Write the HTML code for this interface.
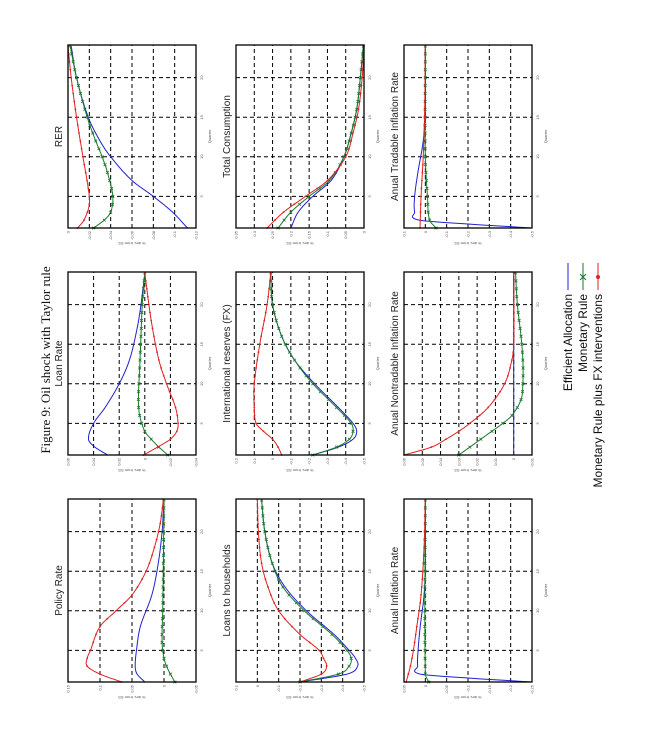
<!DOCTYPE html>
<html><head><meta charset="utf-8">
<style>html,body{margin:0;padding:0;background:#fff;}svg{display:block;}</style>
</head><body>
<svg id="s" width="665" height="735" xmlns="http://www.w3.org/2000/svg">
<g id="g" transform="translate(0,735) rotate(-90)"></g>
</svg>
<script>
const NS="http://www.w3.org/2000/svg";
const G=document.getElementById("g");
function el(t,a,txt){const e=document.createElementNS(NS,t);for(const k in a)e.setAttribute(k,a[k]);if(txt!==undefined)e.textContent=txt;G.appendChild(e);return e;}
const W=183,H=128;
const P=[
{t:"Policy Rate",u:53,v:68,ym:0.15,yn:-0.05,tk:[0.15,0.1,0.05,0,-0.05],
 b:[[1,0.03],[2,0.042],[3,0.045],[5,0.043],[8,0.037],[12,0.019],[16,0.009],[20,0.003],[24,0]],
 g:[[1,-0.017],[2,-0.01],[3,-0.004],[4,0],[6,0.003],[10,0.002],[16,0.001],[24,0]],
 r:[[1,0.066],[2,0.1],[3,0.12],[4,0.12],[5,0.115],[8,0.1],[10,0.075],[12,0.05],[15,0.028],[18,0.015],[21,0.006],[24,0.001]]},
{t:"Loan Rate",u:280,v:68,ym:0.06,yn:-0.04,tk:[0.06,0.04,0.02,0,-0.02,-0.04],
 b:[[1,0.029],[2,0.039],[3,0.044],[5,0.04],[7,0.031],[10,0.02],[13,0.012],[17,0.006],[20,0.003],[24,0]],
 g:[[1,-0.018],[2,-0.011],[3,-0.005],[4,0],[6,0.004],[8,0.005],[12,0.004],[16,0.003],[20,0.002],[24,0]],
 r:[[1,0.001],[2,-0.01],[3,-0.02],[4,-0.025],[5,-0.026],[7,-0.024],[10,-0.017],[13,-0.011],[18,-0.005],[24,0]]},
{t:"RER",u:507,v:68,ym:0,yn:-0.12,tk:[0,-0.02,-0.04,-0.06,-0.08,-0.1,-0.12],
 b:[[1,-0.112],[3,-0.098],[5,-0.08],[7,-0.06],[10,-0.04],[12,-0.03],[15,-0.019],[20,-0.008],[24,-0.003]],
 g:[[1,-0.024],[2,-0.034],[3,-0.04],[5,-0.042],[8,-0.037],[10,-0.032],[12,-0.026],[15,-0.018],[20,-0.008],[24,-0.002]],
 r:[[1,-0.009],[2,-0.015],[4,-0.02],[6,-0.019],[10,-0.014],[15,-0.008],[20,-0.003],[24,0]]},
{t:"Loans to households",u:53,v:236,ym:0.1,yn:-0.5,tk:[0.1,0,-0.1,-0.2,-0.3,-0.4,-0.5],
 b:[[1,-0.2],[2,-0.42],[3,-0.47],[4,-0.46],[5,-0.43],[7,-0.36],[10,-0.23],[13,-0.13],[16,-0.07],[20,-0.035],[24,-0.02]],
 g:[[1,-0.2],[2,-0.38],[3,-0.43],[4,-0.44],[5,-0.42],[7,-0.35],[10,-0.22],[13,-0.12],[16,-0.07],[20,-0.035],[24,-0.02]],
 r:[[1,-0.2],[2,-0.3],[3,-0.325],[4,-0.31],[5,-0.29],[7,-0.2],[10,-0.1],[13,-0.05],[16,-0.02],[20,-0.005],[24,0]]},
{t:"International reserves (FX)",u:280,v:236,ym:0.2,yn:-0.5,tk:[0.2,0.1,0,-0.1,-0.2,-0.3,-0.4,-0.5],
 b:[[1,-0.22],[2,-0.36],[3,-0.44],[4,-0.46],[5,-0.44],[7,-0.36],[10,-0.23],[13,-0.12],[16,-0.05],[20,0],[24,0.01]],
 g:[[1,-0.22],[2,-0.35],[3,-0.42],[4,-0.44],[5,-0.43],[7,-0.35],[10,-0.22],[13,-0.12],[16,-0.05],[20,0],[24,0.01]],
 r:[[1,-0.05],[2,-0.03],[3,0],[4,0.05],[5,0.09],[7,0.1],[10,0.1],[15,0.07],[20,0.03],[24,0.01]]},
{t:"Total Consumption",u:507,v:236,ym:0.35,yn:0,tk:[0.35,0.3,0.25,0.2,0.15,0.1,0.05,0],
 b:[[1,0.2],[3,0.18],[5,0.14],[7,0.09],[10,0.055],[13,0.035],[16,0.02],[20,0.01],[24,0.002]],
 g:[[1,0.235],[3,0.2],[5,0.15],[7,0.095],[10,0.055],[13,0.035],[16,0.02],[20,0.01],[24,0.002]],
 r:[[1,0.265],[3,0.22],[5,0.16],[7,0.1],[10,0.05],[13,0.03],[16,0.015],[20,0.005],[24,0]]},
{t:"Anual Inflation Rate",u:53,v:404,ym:0.05,yn:-0.25,tk:[0.05,0,-0.05,-0.1,-0.15,-0.2,-0.25],
 b:[[1,-0.25],[1.5,-0.1],[2,0.012],[3,0.018],[5,0.017],[8,0.012],[12,0.003],[16,0],[24,0]],
 g:[[1,-0.008],[2,0],[24,0]],
 r:[[1,0.045],[3,0.035],[5,0.028],[8,0.02],[12,0.01],[18,0.003],[24,0]]},
{t:"Anual Nontradable Inflation Rate",u:280,v:404,ym:0.06,yn:-0.01,tk:[0.06,0.05,0.04,0.03,0.02,0.01,0,-0.01],
 b:[[1,0],[24,0]],
 g:[[1,0.03],[3,0.018],[5,0.006],[6,0.001],[8,-0.004],[10,-0.005],[13,-0.005],[16,-0.004],[20,-0.002],[24,-0.001]],
 r:[[1,0.06],[2,0.045],[3,0.037],[4,0.03],[5,0.024],[7,0.014],[10,0.005],[13,0.001],[15,0],[24,0]]},
{t:"Anual Tradable Inflation Rate",u:507,v:404,ym:0.1,yn:-0.5,tk:[0.1,0,-0.1,-0.2,-0.3,-0.4,-0.5],
 b:[[1,-0.5],[1.5,-0.2],[2,0.03],[3,0.05],[5,0.05],[8,0.035],[12,0.01],[16,0],[24,0]],
 g:[[1,-0.05],[2,-0.02],[5,-0.01],[10,0],[24,0]],
 r:[[1,0.025],[5,0.02],[10,0.01],[16,0.003],[24,0]]}
];
function interp(pts,q){
  if(q<=pts[0][0])return pts[0][1];
  for(let i=0;i<pts.length-1;i++){
    const a=pts[i],b=pts[i+1];
    if(q<=b[0]){
      const p0=pts[i-1]||a,p3=pts[i+2]||b;
      const t=(q-a[0])/(b[0]-a[0]),h=b[0]-a[0];
      const m1=(b[1]-p0[1])/(b[0]-p0[0]||1)*h, m2=(p3[1]-a[1])/(p3[0]-a[0]||1)*h;
      const t2=t*t,t3=t2*t;
      return (2*t3-3*t2+1)*a[1]+(t3-2*t2+t)*m1+(-2*t3+3*t2)*b[1]+(t3-t2)*m2;
    }
  }
  return pts[pts.length-1][1];
}
for(const p of P){
  const X=q=>p.u+(q-1)*(182/23), Y=v=>p.v+(p.ym-v)/(p.ym-p.yn)*H;
  // grid
  for(const q of [5,10,15,20]) el("line",{x1:X(q),x2:X(q),y1:p.v,y2:p.v+H,stroke:"#000","stroke-width":1,"stroke-dasharray":"4,3"});
  for(let i=1;i<p.tk.length-1;i++){const y=p.v+i*H/(p.tk.length-1);el("line",{x1:p.u,x2:p.u+W,y1:y,y2:y,stroke:"#000","stroke-width":1,"stroke-dasharray":"4,3"});}
  // series
  const cols={b:"#2020d0",g:"#1a7a2a",r:"#e02020"};
  for(const k of ["b","g","r"]){
    let d="";
    for(let q=1;q<=24.001;q+=0.1){const y=Math.max(p.v,Math.min(p.v+H,Y(interp(p[k],q))));d+=(d?"L":"M")+X(q).toFixed(2)+","+y.toFixed(2);}
    el("path",{d:d,fill:"none",stroke:cols[k],"stroke-width":1});
    if(k!=="b"){
      for(let q=1;q<=24;q++){
        const x=X(q),y=Y(interp(p[k],q));
        if(k==="r")el("circle",{cx:x,cy:y,r:0.9,fill:cols.r});
        else el("path",{d:`M${x-1.4},${y-1.4}L${x+1.4},${y+1.4}M${x-1.4},${y+1.4}L${x+1.4},${y-1.4}`,stroke:cols.g,"stroke-width":0.8});
      }
    }
  }
  el("rect",{x:p.u,y:p.v,width:W,height:H,fill:"none",stroke:"#000","stroke-width":1.3});
  el("text",{x:p.u+W/2,y:p.v-6,"font-family":"Liberation Sans, sans-serif","font-size":10,"text-anchor":"middle",fill:"#222"},p.t);
  for(const q of [5,10,15,20]) el("text",{x:X(q),y:p.v+H+7,"font-family":"Liberation Sans, sans-serif","font-size":4,"text-anchor":"middle",fill:"#555"},String(q));
  el("text",{x:p.u+W/2,y:p.v+H+15,"font-family":"Liberation Sans, sans-serif","font-size":4,"text-anchor":"middle",fill:"#555"},"Quarter");
  for(let i=0;i<p.tk.length;i++){const y=p.v+i*H/(p.tk.length-1);el("text",{x:p.u-3,y:y+1.5,"font-family":"Liberation Sans, sans-serif","font-size":4,"text-anchor":"end",fill:"#555"},String(p.tk[i]));}
  el("text",{x:p.u-14,y:p.v+H/2,"font-family":"Liberation Sans, sans-serif","font-size":4,"text-anchor":"middle",fill:"#555",transform:`rotate(-90 ${p.u-14} ${p.v+H/2})`},"% dev. from SS");
}
el("text",{x:375,y:50,"font-family":"Liberation Serif, serif","font-size":13,"text-anchor":"middle",fill:"#111"},"Figure 9: Oil shock with Taylor rule");
// legend
const L=[["Efficient Allocation","#2020d0","n",572],["Monetary Rule","#1a7a2a","x",587],["Monetary Rule plus FX interventions","#e02020","o",602]];
for(const [t,c,m,v] of L){
  el("text",{x:441,y:v,"font-family":"Liberation Sans, sans-serif","font-size":12,"text-anchor":"end",fill:"#111"},t);
  el("line",{x1:445,x2:472,y1:v-4,y2:v-4,stroke:c,"stroke-width":1});
  if(m==="x")el("path",{d:`M455,${v-7}L461,${v-1}M455,${v-1}L461,${v-7}`,stroke:c,"stroke-width":1});
  if(m==="o")el("circle",{cx:458,cy:v-4,r:2,fill:c});
}
</script>
</body></html>
